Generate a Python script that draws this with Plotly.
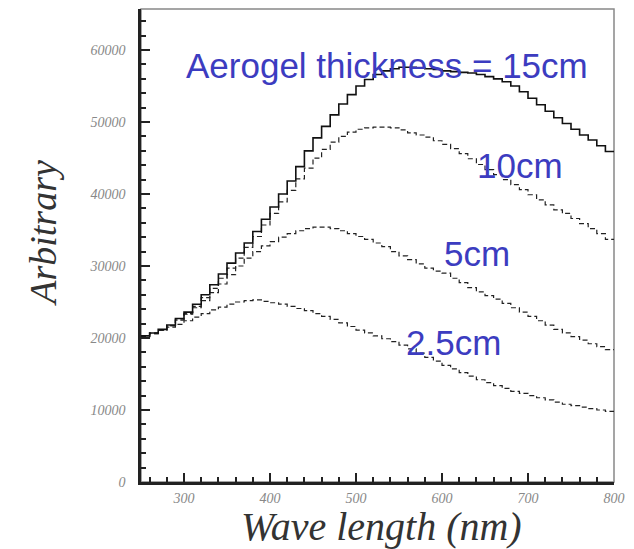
import plotly.graph_objects as go

# Bin left edges (nm), 10 nm bins from 250 to 800
bin_edges = list(range(250, 800, 10))
x_max = 800

thick_15cm = [20300, 20700, 21200, 21800, 22700, 23600, 24700, 26000, 27400, 28900,
              30400, 31800, 33200, 34800, 36500, 38200, 40000, 41800, 43800, 46000,
              47800, 49400, 51000, 52500, 53800, 55000, 55900, 56600, 57100, 57400,
              57600, 57600, 57500, 57400, 57300, 57100, 57000, 56900, 56800, 56600,
              56300, 56000, 55600, 55000, 54200, 53300, 52400, 51500, 50600, 49800,
              49000, 48200, 47500, 46700, 45900]

thick_10cm = [20200, 20600, 21100, 21700, 22500, 23400, 24400, 25600, 26900, 28300,
              29700, 31100, 32600, 34100, 35700, 37300, 38900, 40500, 42100, 43600,
              45000, 46200, 47200, 48000, 48600, 49000, 49200, 49300, 49300, 49200,
              48900, 48500, 48200, 47900, 47400, 46900, 46300, 45600, 44900, 44100,
              43400, 42700, 42000, 41300, 40600, 39900, 39200, 38500, 37800, 37300,
              36600, 35900, 35200, 34500, 33700]

thick_5cm = [20200, 20600, 21100, 21700, 22500, 23300, 24200, 25200, 26300, 27500,
             28800, 30000, 31100, 32000, 32800, 33400, 34000, 34500, 34900, 35200,
             35400, 35400, 35200, 34900, 34500, 34100, 33700, 33200, 32700, 32000,
             31400, 30900, 30300, 29700, 29300, 29000, 28300, 27700, 27000, 26400,
             25900, 25400, 24800, 24200, 23600, 23000, 22400, 21800, 21200, 20700,
             20200, 19700, 19200, 18800, 18400]

thick_2p5cm = [20300, 20700, 21100, 21500, 21900, 22400, 22900, 23400, 23900, 24300,
               24700, 25000, 25200, 25300, 25100, 24900, 24700, 24400, 24100, 23800,
               23400, 23000, 22600, 22100, 21600, 21100, 20700, 20300, 19900, 19500,
               19000, 18500, 17900, 17300, 16800, 16200, 15700, 15200, 14700, 14200,
               13800, 13400, 13000, 12600, 12300, 12000, 11700, 11400, 11100, 10800,
               10600, 10400, 10200, 10000, 9800]

y_ticks = [0, 10000, 20000, 30000, 40000, 50000, 60000]
y_tick_text = ["0", "10000", "20000", "30000", "40000", "50000", "60000"]
x_ticks = [300, 400, 500, 600, 700, 800]
x_tick_text = ["300", "400", "500", "600", "700", "800"]

labels = [
    ("Aerogel thickness = 15cm", 300, 57800),
    ("10cm", 638, 44000),
    ("5cm", 600, 31700),
    ("2.5cm", 556, 19400),
]

edges = bin_edges + [x_max]

def step(values):
    return values + [values[-1]]

fig = go.Figure()

styles = [
    (thick_2p5cm, dict(color="#222", width=1.2, dash="5px,3px")),
    (thick_5cm, dict(color="#222", width=1.2, dash="5px,3px")),
    (thick_10cm, dict(color="#222", width=1.2, dash="5px,3px")),
    (thick_15cm, dict(color="#111", width=1.6)),
]
for vals, line in styles:
    fig.add_trace(go.Scatter(x=edges, y=step(vals), mode="lines",
                             line=dict(shape="hv", **line),
                             showlegend=False, hoverinfo="skip"))

for text, lx, ly in labels:
    fig.add_annotation(x=lx, y=ly, text=text, showarrow=False,
                       xanchor="left", yanchor="middle",
                       font=dict(family="Liberation Sans", size=35, color="#3c3cc0"))

# axis titles
fig.add_annotation(xref="paper", yref="paper", x=0.508, y=-0.094, text="Wave length (nm)",
                   showarrow=False, xanchor="center", yanchor="middle",
                   font=dict(family="Liberation Serif", size=40, color="#333", style="italic"))
fig.add_annotation(xref="paper", yref="paper", x=-0.207, y=0.525, text="Arbitrary",
                   showarrow=False, xanchor="center", yanchor="middle", textangle=-90,
                   font=dict(family="Liberation Serif", size=38, color="#333", style="italic"))

# light frame on top/right
fig.add_shape(type="rect", xref="paper", yref="paper", x0=0, y0=0, x1=1, y1=1,
              line=dict(color="#888", width=1.5), layer="below")

tick_font = dict(family="Liberation Serif", size=14, color="#888", style="italic")

fig.update_xaxes(range=[250, 800], tickvals=x_ticks, ticktext=x_tick_text,
                 ticks="inside", ticklen=9, tickwidth=1.5, tickcolor="#222",
                 minor=dict(dtick=20, ticks="inside", ticklen=5, tickcolor="#222"),
                 showline=True, linecolor="#222", linewidth=2.5, showgrid=False,
                 zeroline=False, tickfont=tick_font, ticklabelstandoff=1)
fig.update_yaxes(range=[0, 65700], tickvals=y_ticks, ticktext=y_tick_text,
                 ticks="inside", ticklen=9, tickwidth=1.5, tickcolor="#222",
                 minor=dict(dtick=2000, ticks="inside", ticklen=5, tickcolor="#222"),
                 showline=True, linecolor="#222", linewidth=2.5, showgrid=False,
                 zeroline=False, tickfont=tick_font, ticklabelstandoff=10)

fig.update_layout(width=634, height=549, plot_bgcolor="white", paper_bgcolor="white",
                  margin=dict(l=141, r=16, t=9, b=67))

fig.write_html("out.html")
